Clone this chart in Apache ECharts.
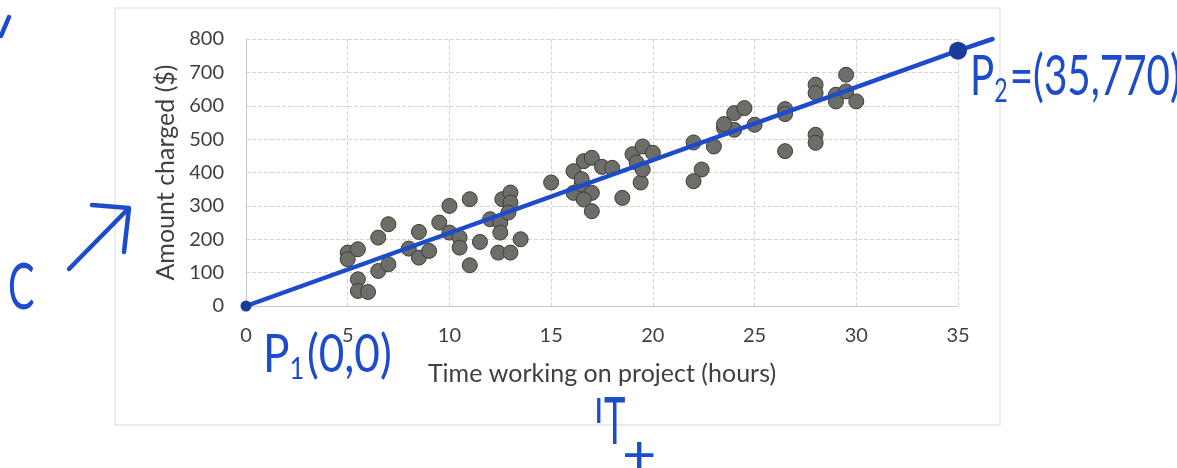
<!DOCTYPE html>
<html>
<head>
<meta charset="utf-8">
<script src="https://cdn.jsdelivr.net/npm/echarts@6/dist/echarts.min.js"></script>
<style>
  html, body { margin: 0; padding: 0; background: #fff; }
  #chart { width: 1177px; height: 468px; }
</style>
</head>
<body>
<div id="chart"></div>
<script>
// hours vs amount charged ($)
const hours = [5.0, 5.0, 5.5, 5.5, 5.5, 6.0, 6.5, 7.0, 6.5, 7.0, 8.0, 8.5, 9.0, 8.5, 9.5, 10.0, 10.0, 11.0, 10.5, 10.5,
  11.5, 11.0, 12.0, 12.5, 12.5, 12.6, 13.0, 13.0, 12.9, 12.4, 13.0, 13.5, 15.0, 16.6, 17.0, 16.1, 17.5, 18.0, 16.1, 16.5,
  17.0, 16.6, 17.0, 18.5, 16.5, 19.0, 19.2, 19.4, 19.5, 20.0, 19.5, 22.0, 23.0, 23.5, 24.0, 24.0, 24.5, 25.0, 23.5, 22.4,
  22.0, 26.5, 26.5, 28.0, 28.0, 29.5, 29.0, 29.0, 29.5, 30.0, 28.0, 28.0, 26.5];
const charged = [160, 140, 170, 80, 45, 42, 105, 125, 205, 245, 172, 145, 165, 222, 250, 220, 300, 320, 205, 175,
  192, 122, 260, 250, 220, 320, 340, 310, 280, 160, 160, 200, 370, 434, 444, 404, 417, 414, 339, 364,
  339, 319, 284, 324, 380, 455, 430, 370, 478, 459, 409, 490, 478, 533, 528, 578, 593, 543, 545, 409,
  374, 590, 575, 663, 638, 693, 633, 613, 643, 613, 513, 489, 464];

// hand drawn line through P1 and P2 (runs a little past P2)
const lineX = [0, 35, 36.7];
const lineY = [0, 765, 800];
const endPoints = [[0, 0], [35, 765]];

const xTicks = { min: 0, max: 35, step: 5 };
const yTicks = { min: 0, max: 800, step: 100 };

const blue = '#1c4ccc';
const font = 'Lato';

const chart = echarts.init(document.getElementById('chart'));

// segments of the pen line, [x0, y0, x1, y1]
const segments = lineX.slice(1).map((x, i) => [lineX[i], lineY[i], x, lineY[i + 1]]);

function penText(x, y, text, size, sx) {
  return {
    type: 'text', x: x, y: y, scaleX: sx,
    style: { text: text, x: 0, y: 0, font: size + 'px Lato', fill: blue, verticalAlign: 'top', align: 'left' }
  };
}

const option = {
  backgroundColor: '#fff',
  animation: false,
  grid: { left: 246, right: 219, top: 39, bottom: 162 },
  xAxis: {
    type: 'value',
    min: xTicks.min, max: xTicks.max, interval: xTicks.step,
    name: 'Time working on project (hours)',
    nameLocation: 'middle',
    nameGap: 55,
    nameTextStyle: { fontFamily: font, fontSize: 25, color: '#404040' },
    axisLine: { show: true, lineStyle: { color: '#c8c8c8' } },
    axisTick: { show: false },
    axisLabel: { fontFamily: font, fontSize: 20, color: '#404040', margin: 20 },
    splitLine: { show: true, lineStyle: { color: '#d4d4d4', type: 'dashed' } }
  },
  yAxis: {
    type: 'value',
    min: yTicks.min, max: yTicks.max, interval: yTicks.step,
    name: 'Amount charged ($)',
    nameLocation: 'middle',
    nameGap: 64,
    nameTextStyle: { fontFamily: font, fontSize: 25, color: '#404040' },
    axisLine: { show: true, lineStyle: { color: '#c8c8c8' } },
    axisTick: { show: false },
    axisLabel: { fontFamily: font, fontSize: 20, color: '#404040', margin: 22 },
    splitLine: { show: true, lineStyle: { color: '#d4d4d4', type: 'dashed' } }
  },
  series: [
    {
      name: 'Projects',
      type: 'scatter',
      symbolSize: 15,
      data: hours.map((h, i) => [h, charged[i]]),
      itemStyle: { color: '#6c6e67', borderColor: '#3c3e39', borderWidth: 1, opacity: 1 },
      z: 2
    },
    {
      name: 'Line',
      type: 'custom',
      clip: false,
      data: segments,
      renderItem: (params, api) => {
        const a = api.coord([api.value(0), api.value(1)]);
        const b = api.coord([api.value(2), api.value(3)]);
        return {
          type: 'line',
          shape: { x1: a[0], y1: a[1], x2: b[0], y2: b[1] },
          style: { stroke: blue, lineWidth: 4.5, lineCap: 'round' }
        };
      },
      z: 3
    },
    {
      name: 'Points',
      type: 'scatter',
      data: endPoints,
      symbolSize: (v, p) => (p.dataIndex === 0 ? 11 : 18),
      clip: false,
      itemStyle: { color: '#183c9c', opacity: 1 },
      z: 4
    }
  ],
  graphic: [
    // outer chart frame
    { type: 'rect', shape: { x: 115, y: 8, width: 885, height: 417 },
      style: { fill: 'none', stroke: '#d9d9d9', lineWidth: 1 }, silent: true },
    // pen marks
    { type: 'line', shape: { x1: 9, y1: 17, x2: 1, y2: 36 },
      style: { stroke: blue, lineWidth: 4.5, lineCap: 'round' } },
    penText(8, 256, 'C', 64, 0.62),
    { type: 'line', shape: { x1: 69, y1: 269, x2: 128, y2: 209 },
      style: { stroke: blue, lineWidth: 4.5, lineCap: 'round' } },
    { type: 'polyline', shape: { points: [[92, 205], [129, 208], [124, 252]] },
      style: { stroke: blue, lineWidth: 4.5, fill: 'none', lineCap: 'round', lineJoin: 'round' } },
    {
      type: 'text', x: 263, y: 326, scaleX: 0.85,
      style: {
        x: 0, y: 0, verticalAlign: 'top', align: 'left',
        text: '{p|P}{s|1}{p|(0,0)}',
        rich: {
          p: { font: '52px Lato', fill: blue },
          s: { font: '30px Lato', fill: blue, padding: [28, 3, 0, 0] }
        }
      }
    },
    {
      type: 'text', x: 970, y: 46, scaleX: 0.72,
      style: {
        x: 0, y: 0, verticalAlign: 'top', align: 'left',
        text: '{p|P}{s|2}{p|=(35,770)}',
        rich: {
          p: { font: '56px Lato', fill: blue },
          s: { font: '32px Lato', fill: blue, padding: [30, 3, 0, 0] }
        }
      }
    },
    penText(594, 395, 'I', 34, 1),
    penText(604, 390, 'T', 66, 0.55),
    penText(622, 430, '+', 54, 1.1)
  ]
};

chart.setOption(option);
</script>
</body>
</html>
